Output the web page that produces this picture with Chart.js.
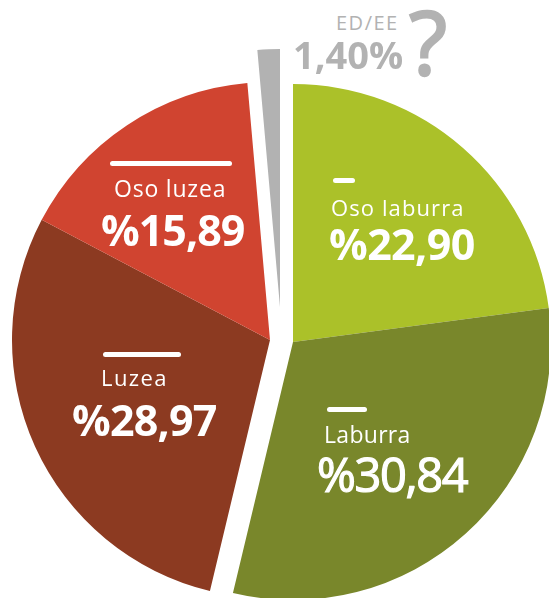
<!DOCTYPE html>
<html>
<head>
<meta charset="utf-8">
<script src="https://cdn.jsdelivr.net/npm/chart.js@4"></script>
<style>
  html, body { margin: 0; padding: 0; background: #fff; }
  #wrap { position: relative; width: 549px; height: 598px; overflow: hidden; }
  #wrap canvas { position: absolute; }
  .lbl { position: absolute; color: #fff; font-family: "Open Sans", sans-serif; line-height: 1; white-space: nowrap; }
  .bar { position: absolute; background: #fff; height: 5px; border-radius: 2.5px; }
</style>
</head>
<body>
<div id="wrap">
  <canvas id="pie_green" width="516" height="516"></canvas>
  <canvas id="pie_red" width="516" height="516"></canvas>
  <canvas id="pie_gray" width="516" height="516"></canvas>
</div>
<script>
// the numbers
const categories = ["Oso laburra", "Laburra", "Luzea", "Oso luzea", "ED/EE"];
const values = [22.90, 30.84, 28.97, 15.89, 1.40];
const colors = ["#abc129", "#79872b", "#8c3a21", "#d04430", "#b2b2b2"];

// which slices go together (each group is pulled apart a bit)
const groups = {
  pie_green: { idx: [0, 1], cx: 293, cy: 342 },
  pie_red: { idx: [2, 3], cx: 269.5, cy: 340 },
  pie_gray: { idx: [4], cx: 280, cy: 307 }
};
const radius = 258;

function make_pie(id) {
  let g = groups[id];
  let cv = document.getElementById(id);
  cv.style.left = (g.cx - radius) + "px";
  cv.style.top = (g.cy - radius) + "px";
  let bg = colors.map((c, i) => g.idx.includes(i) ? c : "rgba(0,0,0,0)");
  return new Chart(cv.getContext("2d"), {
    type: "pie",
    data: {
      labels: categories,
      datasets: [{ data: values, backgroundColor: bg, borderWidth: 0 }]
    },
    options: {
      responsive: false,
      animation: false,
      events: [],
      layout: { padding: 0 },
      plugins: { legend: { display: false }, tooltip: { enabled: false } }
    }
  });
}

for (let id in groups) make_pie(id);

// labels on top, as html text
const fmt = v => v.toFixed(2).replace(".", ",");
const labels = [
  // [text, left, top, size, weight, letter spacing, stroke, color]
  [categories[0], 331, 196, 22, 400, 1.1, 0],
  ["%" + fmt(values[0]), 329, 222, 43, 700, -0.6, 0],
  [categories[3], 114, 177, 23, 400, 0.8, 0],
  ["%" + fmt(values[3]), 101, 208, 43, 700, -1, 0],
  [categories[2], 101, 366, 22, 400, 1.4, 0],
  ["%" + fmt(values[2]), 72, 398, 43, 700, -0.8, 0],
  [categories[1], 324, 423, 23, 400, 0.3, 0],
  ["%" + fmt(values[1]), 317, 451, 47, 400, -1.4, 1.2],
  [categories[4], 336, 13, 20, 400, 1.5, 0, "#b2b2b2"],
  [fmt(values[4]) + "%", 293, 35, 38, 700, 0, 0, "#b2b2b2"],
  ["?", 409, -3, 88, 400, 0, 2.5, "#b2b2b2"]
];
const bars = [[333, 178, 22], [110, 161, 122], [103, 352, 78], [327, 407, 40]];

const wrap = document.getElementById("wrap");
for (let l of labels) {
  let d = document.createElement("div");
  d.className = "lbl";
  d.innerText = l[0];
  d.style.left = l[1] + "px";
  d.style.top = l[2] + "px";
  d.style.fontSize = l[3] + "px";
  d.style.fontWeight = l[4];
  d.style.letterSpacing = l[5] + "px";
  if (l[7]) d.style.color = l[7];
  if (l[6]) d.style.webkitTextStroke = l[6] + "px " + (l[7] || "#fff");
  wrap.appendChild(d);
}
for (let b of bars) {
  let d = document.createElement("div");
  d.className = "bar";
  d.style.left = b[0] + "px";
  d.style.top = b[1] + "px";
  d.style.width = b[2] + "px";
  wrap.appendChild(d);
}
</script>
</body>
</html>
